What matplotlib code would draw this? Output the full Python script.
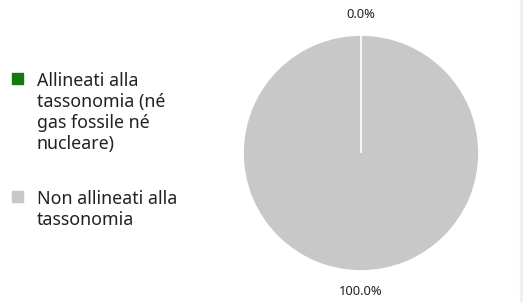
import matplotlib.pyplot as plt
from matplotlib.patches import Rectangle

plt.rcParams['font.family'] = ['Noto Sans', 'DejaVu Sans']

categories = ["Allineati alla\ntassonomia (né\ngas fossile né\nnucleare)",
              "Non allineati alla\ntassonomia"]
values = [0.0, 100.0]
colors = ["#137a13", "#c8c8c8"]

W, H = 523, 302
fig = plt.figure(figsize=(W / 100, H / 100), dpi=100)

# pie, centre (361, 153) px, radius 118 px
r = 118
cx, cy = 361, 153
ax = fig.add_axes([(cx - r) / W, 1 - (cy + r) / H, 2 * r / W, 2 * r / H])
wedges, texts, autotexts = ax.pie(
    values, colors=colors, startangle=90, counterclock=False, radius=1,
    autopct='%1.1f%%', pctdistance=1.17,
    wedgeprops=dict(edgecolor='white', linewidth=1.2),
    textprops=dict(fontsize=9.3, color='#222222'))
# keep the empty slice's white border visible on top of the full one
wedges[0].set_zorder(5)
ax.set_xlim(-1, 1)
ax.set_ylim(-1, 1)
ax.set_aspect('equal')

# legend drawn by hand so the marker sits on the first line
marker_tops = [73, 191]
for label, color, yt in zip(categories, colors, marker_tops):
    fig.patches.append(Rectangle((12 / W, 1 - (yt + 11) / H), 11 / W, 11 / H,
                                 transform=fig.transFigure, color=color))
    fig.text(37 / W, 1 - (yt - 1) / H, label, fontsize=12.8, va='top',
             ha='left', color='#222222', linespacing=1.22)

# faint scrollbar strip on the right edge
fig.patches.append(Rectangle((520 / W, 0), 2 / W, 1, transform=fig.transFigure,
                             color='#f0f0f0'))

fig.savefig("out.png", dpi=100)
